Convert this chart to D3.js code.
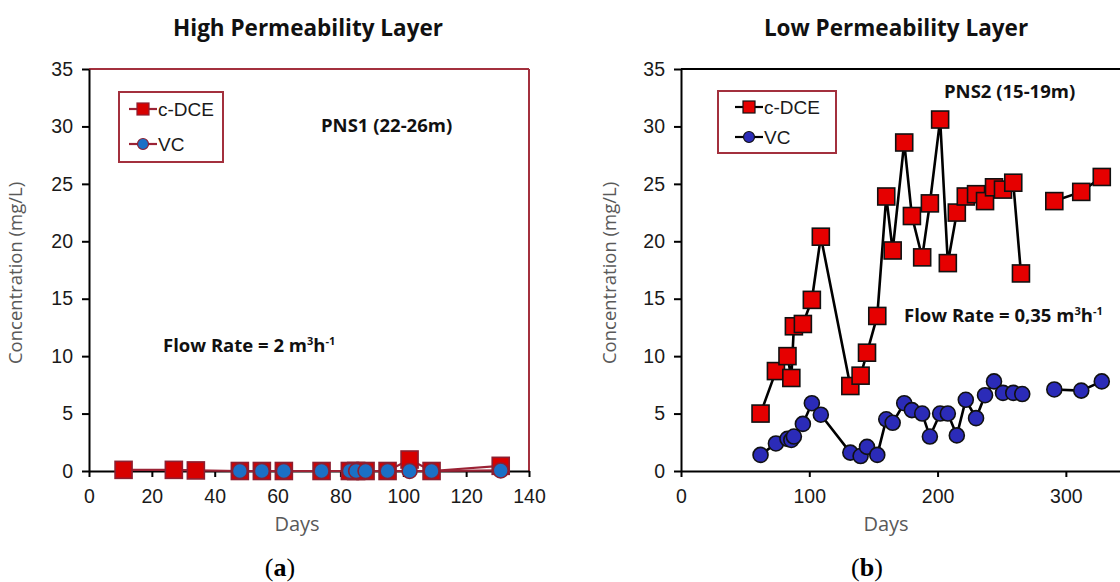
<!DOCTYPE html>
<html>
<head>
<meta charset="utf-8">
<script src="https://cdn.jsdelivr.net/npm/d3@7"></script>
<style>
  body { margin: 0; background: #fff; }
  svg { display: block; }
</style>
</head>
<body>
<div id="chart"></div>
<script>
// Panel (a): high permeability layer, PNS1
const highDceDays = [11, 27, 34, 48, 55, 62, 74, 83, 85, 88, 95, 102, 109, 131];
const highDceValues = [0.1, 0.1, 0.05, 0, 0, 0, 0, 0, 0, 0, 0, 1.0, 0, 0.45];
const highVcDays = [48, 55, 62, 74, 83, 85, 88, 95, 102, 109, 131];
const highVcValues = [0, 0, 0, 0, 0, 0, 0, 0, 0, 0, 0.05];

// Panel (b): low permeability layer, PNS2
const lowDceDays = [62, 74, 83, 86, 88, 95, 102, 109, 132, 140, 145, 153, 160, 165, 174, 180,
  188, 194, 202, 208, 215, 222, 230, 237, 244, 251, 259, 265, 291, 312, 328];
const lowDceValues = [5.0, 8.7, 10.0, 8.1, 12.6, 12.8, 14.9, 20.4, 7.4, 8.3, 10.3, 13.5, 23.9, 19.2, 28.6, 22.2,
  18.6, 23.3, 30.6, 18.1, 22.5, 23.9, 24.1, 23.5, 24.7, 24.5, 25.1, 17.2, 23.5, 24.3, 25.6];
const lowVcDays = [62, 74, 83, 86, 88, 95, 102, 109, 132, 140, 145, 153, 160, 165, 174, 180,
  188, 194, 202, 208, 215, 222, 230, 237, 244, 251, 259, 266, 291, 312, 328];
const lowVcValues = [1.4, 2.4, 2.8, 2.7, 3.0, 4.1, 5.9, 4.9, 1.6, 1.3, 2.1, 1.4, 4.5, 4.2, 5.9, 5.3,
  5.0, 3.0, 5.0, 5.0, 3.1, 6.2, 4.6, 6.6, 7.8, 6.8, 6.8, 6.7, 7.1, 7.0, 7.8];
// sampling gap in panel (b): lines are not joined across it
const lowGapAfterDay = 270;

const yTicks = [0, 5, 10, 15, 20, 25, 30, 35];
const highXTicks = [0, 20, 40, 60, 80, 100, 120, 140];
const lowXTicks = [0, 100, 200, 300];
const seriesNames = ["c-DCE", "VC"];

const width = 1120, height = 582;
const svg = d3.select("#chart").append("svg")
  .attr("width", width)
  .attr("height", height)
  .style("background", "#fff");

const tickFont = "'Liberation Sans', Arial, sans-serif";
const uiFont = "'Open Sans', 'Noto Sans', sans-serif";

function toPoints(days, values) {
  return days.map((d, i) => ({ day: d, value: values[i] }));
}

function drawPanel(p) {
  const x = d3.scaleLinear().domain(p.xDomain).range(p.xRange);
  const y = d3.scaleLinear().domain([0, 35]).range([471, 69]);
  const g = svg.append("g");

  // frame on top / right
  g.append("line")
    .attr("x1", p.xRange[0]).attr("x2", p.xRange[1])
    .attr("y1", y(35)).attr("y2", y(35))
    .attr("stroke", p.frameColor).attr("stroke-width", 2);
  if (p.rightFrame) {
    g.append("line")
      .attr("x1", p.xRange[1]).attr("x2", p.xRange[1])
      .attr("y1", y(35)).attr("y2", y(0))
      .attr("stroke", p.frameColor).attr("stroke-width", 2);
  }

  // axes
  const xAxis = g.append("g")
    .attr("transform", `translate(0,${y(0)})`)
    .call(d3.axisBottom(x).tickValues(p.xTicks).tickSize(6).tickSizeOuter(0).tickPadding(12));
  const yAxis = g.append("g")
    .attr("transform", `translate(${p.xRange[0]},0)`)
    .call(d3.axisLeft(y).tickValues(yTicks).tickSize(7).tickSizeOuter(0).tickPadding(9));
  [xAxis, yAxis].forEach(a => {
    a.selectAll("path, line").attr("stroke", "#000").attr("stroke-width", 2);
    a.selectAll("text").attr("font-family", tickFont).attr("font-size", 19.5).attr("fill", "#1a1a1a");
  });

  // lines
  const line = d3.line().x(d => x(d.day)).y(d => y(d.value));
  p.series.forEach(s => {
    const pts = toPoints(s.days, s.values);
    const segs = p.gapAfter
      ? [pts.filter(d => d.day <= p.gapAfter), pts.filter(d => d.day > p.gapAfter)]
      : [pts];
    segs.forEach(seg => {
      g.append("path")
        .datum(seg)
        .attr("d", line)
        .attr("fill", "none")
        .attr("stroke", p.lineColor)
        .attr("stroke-width", p.lineWidth);
    });
  });

  // markers (squares under circles)
  const [dce, vc] = p.series;
  g.append("g").selectAll("rect")
    .data(toPoints(dce.days, dce.values))
    .join("rect")
    .attr("x", d => x(d.day) - p.sq / 2)
    .attr("y", d => y(d.value) - p.sq / 2)
    .attr("width", p.sq).attr("height", p.sq)
    .attr("fill", p.sqFill)
    .attr("stroke", p.markerStroke).attr("stroke-width", 1.6);
  g.append("g").selectAll("circle")
    .data(toPoints(vc.days, vc.values))
    .join("circle")
    .attr("cx", d => x(d.day))
    .attr("cy", d => y(d.value))
    .attr("r", p.r)
    .attr("fill", p.circleFill)
    .attr("stroke", p.markerStroke).attr("stroke-width", 1.6);

  // legend
  const lg = p.legend;
  g.append("rect")
    .attr("x", lg.x).attr("y", lg.y).attr("width", lg.w).attr("height", lg.h)
    .attr("fill", "#fff").attr("stroke", p.legendBorder).attr("stroke-width", 2);
  seriesNames.forEach((name, i) => {
    const cy = lg.rows[i];
    g.append("line")
      .attr("x1", lg.lineX).attr("x2", lg.lineX + 28)
      .attr("y1", cy).attr("y2", cy)
      .attr("stroke", p.lineColor).attr("stroke-width", 2.2);
    if (i === 0) {
      g.append("rect")
        .attr("x", lg.lineX + 14 - 6).attr("y", cy - 6)
        .attr("width", 12).attr("height", 12)
        .attr("fill", p.sqFill).attr("stroke", p.markerStroke).attr("stroke-width", 1.2);
    } else {
      g.append("circle")
        .attr("cx", lg.lineX + 14).attr("cy", cy).attr("r", 5.5)
        .attr("fill", p.circleFill).attr("stroke", p.markerStroke).attr("stroke-width", 1.2);
    }
    g.append("text")
      .attr("x", lg.lineX + 29).attr("y", cy + 7)
      .attr("font-family", tickFont).attr("font-size", 19).attr("fill", "#1a1a1a")
      .text(name);
  });

  // titles and labels
  g.append("text")
    .attr("x", p.titleX).attr("y", 36)
    .attr("text-anchor", "middle")
    .attr("font-family", uiFont).attr("font-weight", 700).attr("font-size", 22.5)
    .attr("fill", "#111")
    .text(p.title);
  g.append("text")
    .attr("transform", `translate(${p.yLabelX},273) rotate(-90)`)
    .attr("text-anchor", "middle")
    .attr("font-family", uiFont).attr("font-size", 18.5).attr("fill", "#595959")
    .text("Concentration (mg/L)");
  g.append("text")
    .attr("x", p.daysX).attr("y", 531)
    .attr("text-anchor", "middle")
    .attr("font-family", uiFont).attr("font-size", 20).attr("fill", "#595959")
    .text("Days");

  g.append("text")
    .attr("x", p.siteX).attr("y", p.siteY)
    .attr("font-family", uiFont).attr("font-weight", 700).attr("font-size", 18.5)
    .attr("fill", "#111")
    .text(p.site);

  const fr = g.append("text")
    .attr("x", p.flowX).attr("y", p.flowY)
    .attr("font-family", uiFont).attr("font-weight", 700).attr("font-size", 18.5)
    .attr("fill", "#111");
  fr.append("tspan").text(`Flow Rate = ${p.flow} m`);
  fr.append("tspan").attr("font-size", 11).attr("dy", -7).text("3");
  fr.append("tspan").attr("dy", 7).text("h");
  fr.append("tspan").attr("font-size", 11).attr("dy", -7).text("-1");

  const cap = g.append("text")
    .attr("x", p.capX).attr("y", 576)
    .attr("text-anchor", "middle")
    .attr("font-family", "'Liberation Serif', 'DejaVu Serif', serif").attr("font-size", 26)
    .attr("fill", "#000");
  cap.append("tspan").text("(");
  cap.append("tspan").attr("font-weight", 700).text(p.cap);
  cap.append("tspan").text(")");
}

drawPanel({
  xDomain: [0, 140], xRange: [89, 529], xTicks: highXTicks,
  frameColor: "#a3303d", rightFrame: true,
  series: [
    { days: highDceDays, values: highDceValues },
    { days: highVcDays, values: highVcValues }
  ],
  lineColor: "#9b2335", lineWidth: 2.2,
  sq: 17, sqFill: "#d70000", r: 7.5, circleFill: "#1b70c6", markerStroke: "#8c1f31",
  legend: { x: 119, y: 92, w: 104, h: 70, rows: [109, 144], lineX: 129 },
  legendBorder: "#a3303d",
  title: "High Permeability Layer", titleX: 308, yLabelX: 22, daysX: 297,
  site: "PNS1 (22-26m)", siteX: 321, siteY: 132,
  flow: "2", flowX: 163, flowY: 352, cap: "a", capX: 280
});

drawPanel({
  xDomain: [0, 350], xRange: [681, 1130], xTicks: lowXTicks,
  frameColor: "#000", rightFrame: false,
  series: [
    { days: lowDceDays, values: lowDceValues },
    { days: lowVcDays, values: lowVcValues }
  ],
  gapAfter: lowGapAfterDay,
  lineColor: "#000", lineWidth: 2.6,
  sq: 17, sqFill: "#e60000", r: 7.5, circleFill: "#2b2bb8", markerStroke: "#111",
  legend: { x: 718, y: 91, w: 118, h: 62, rows: [107, 137], lineX: 735 },
  legendBorder: "#a3303d",
  title: "Low Permeability Layer", titleX: 896, yLabelX: 616, daysX: 886,
  site: "PNS2 (15-19m)", siteX: 944, siteY: 98,
  flow: "0,35", flowX: 904, flowY: 322, cap: "b", capX: 867
});
</script>
</body>
</html>
